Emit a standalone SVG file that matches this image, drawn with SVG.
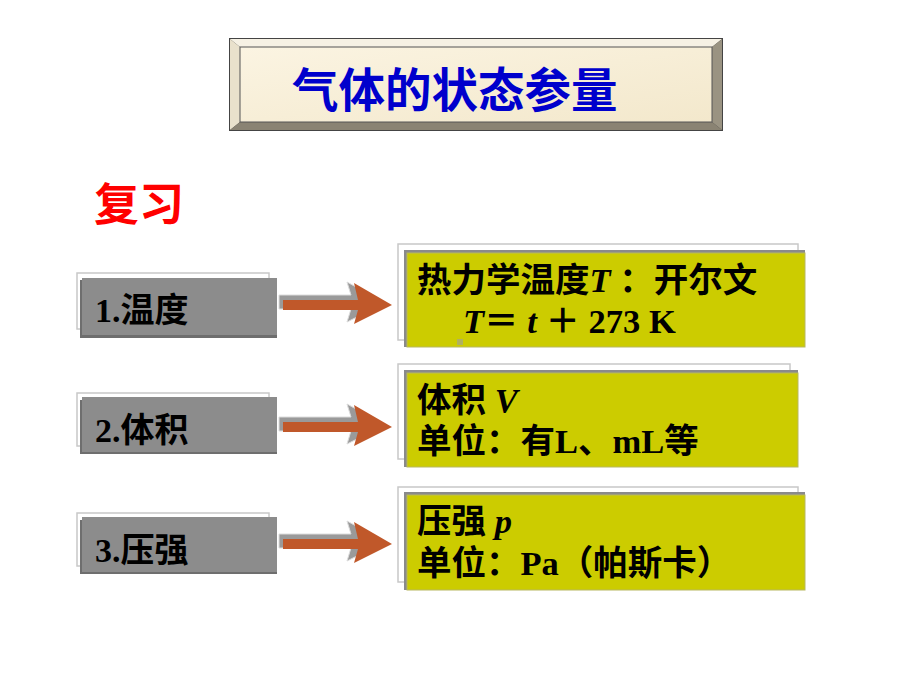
<svg xmlns="http://www.w3.org/2000/svg" width="920" height="690" viewBox="0 0 920 690">
<defs>
<style>
.t{font-family:"Liberation Serif","Noto Sans CJK SC",serif;font-weight:bold;fill:#000}
.cn{font-family:"Noto Sans CJK SC",sans-serif;font-weight:bold}
.back{fill:#fff;stroke:#c8c8c8;stroke-width:1.5}
.gray{fill:#8c8c8c}
.gshadow{fill:#6e6e6e}
.yel{fill:#cccc00;stroke:#b8b860;stroke-width:1}
.yshadow{fill:#8a8a8a}
.arr{fill:#c0582a}
.arrs{fill:#9a9a9a;stroke:#dcdcdc;stroke-width:1}
.i{font-style:italic}
</style>
<linearGradient id="cream" x1="0" y1="0" x2="1" y2="1">
<stop offset="0" stop-color="#fbf4e2"/><stop offset="1" stop-color="#f3e8cc"/>
</linearGradient>
</defs>
<rect width="920" height="690" fill="#fff"/>

<g id="title">
<rect x="229" y="38" width="494" height="93" fill="#444"/>
<polygon points="230,39 722,39 712,47 240,47" fill="#f6f1e4"/>
<polygon points="230,39 240,47 240,122 230,130" fill="#e9e1cc"/>
<polygon points="722,39 722,130 712,122 712,47" fill="#9a9382"/>
<polygon points="230,130 722,130 712,122 240,122" fill="#8a8373"/>
<rect x="240" y="47" width="472" height="75" fill="url(#cream)" stroke="#555" stroke-width="1"/>
<text x="292" y="107" class="cn" font-size="46.5" fill="#0000cc">气体的状态参量</text>
</g>

<g id="review">
<text x="94" y="221" class="cn" font-size="45" fill="#ff0000">复习</text>
</g>

<g id="n1">
<rect class="back" x="77" y="273" width="192" height="56"/>
<rect class="gshadow" x="80" y="280" width="197" height="58"/>
<rect class="gray" x="82" y="278" width="195" height="57"/>
<text x="95" y="322" class="t" font-size="34">1.温度</text>
</g>
<g id="n2">
<rect class="back" x="77" y="393" width="192" height="53"/>
<rect class="gshadow" x="80" y="400" width="197" height="54"/>
<rect class="gray" x="82" y="397" width="195" height="55"/>
<text x="95" y="442" class="t" font-size="34">2.体积</text>
</g>
<g id="n3">
<rect class="back" x="77" y="513" width="192" height="53"/>
<rect class="gshadow" x="80" y="520" width="197" height="54"/>
<rect class="gray" x="82" y="517" width="195" height="55"/>
<text x="95" y="562" class="t" font-size="34">3.压强</text>
</g>

<g id="r1">
<rect class="back" x="398" y="244" width="400" height="96"/>
<rect class="yshadow" x="404" y="250" width="401" height="97"/>
<rect class="yel" x="407" y="253" width="398" height="94"/>
<text x="417" y="292" class="t" font-size="34.5">热力学温度<tspan class="i">T</tspan> ：开尔文</text>
<text x="463" y="333" class="t" font-size="34.5"><tspan class="i">T</tspan>＝ <tspan class="i">t</tspan> ＋ 273 K</text>
<rect x="457" y="339" width="6" height="6" fill="#b0b060"/>
</g>
<g id="r2">
<rect class="back" x="398" y="364" width="392" height="95"/>
<rect class="yshadow" x="404" y="370" width="394" height="97"/>
<rect class="yel" x="407" y="373" width="391" height="94"/>
<text x="417" y="412" class="t" font-size="34.5">体积 <tspan class="i">V</tspan></text>
<text x="417" y="453" class="t" font-size="34.5">单位：有L、mL等</text>
</g>
<g id="r3">
<rect class="back" x="398" y="487" width="400" height="95"/>
<rect class="yshadow" x="404" y="492" width="401" height="98"/>
<rect class="yel" x="407" y="495" width="398" height="95"/>
<text x="417" y="533" class="t" font-size="34.5">压强 <tspan class="i">p</tspan></text>
<text x="417" y="575" class="t" font-size="34.5">单位：Pa（帕斯卡）</text>
</g>

<g id="connectors">
<g transform="translate(0,305)">
<polygon class="arrs" points="280,-8 352,-8 348,-21 386,0 348,19 352,6 280,6" transform="translate(-1,-2)"/>
<polygon class="arr" points="283,-5 358,-5 354,-22 392,0 354,19 358,5 283,5"/>
</g>
<g transform="translate(0,427)">
<polygon class="arrs" points="280,-8 352,-8 348,-21 386,0 348,19 352,6 280,6" transform="translate(-1,-2)"/>
<polygon class="arr" points="283,-5 358,-5 354,-22 392,0 354,19 358,5 283,5"/>
</g>
<g transform="translate(0,544)">
<polygon class="arrs" points="280,-8 352,-8 348,-21 386,0 348,19 352,6 280,6" transform="translate(-1,-2)"/>
<polygon class="arr" points="283,-5 358,-5 354,-22 392,0 354,19 358,5 283,5"/>
</g>
</g>
</svg>
